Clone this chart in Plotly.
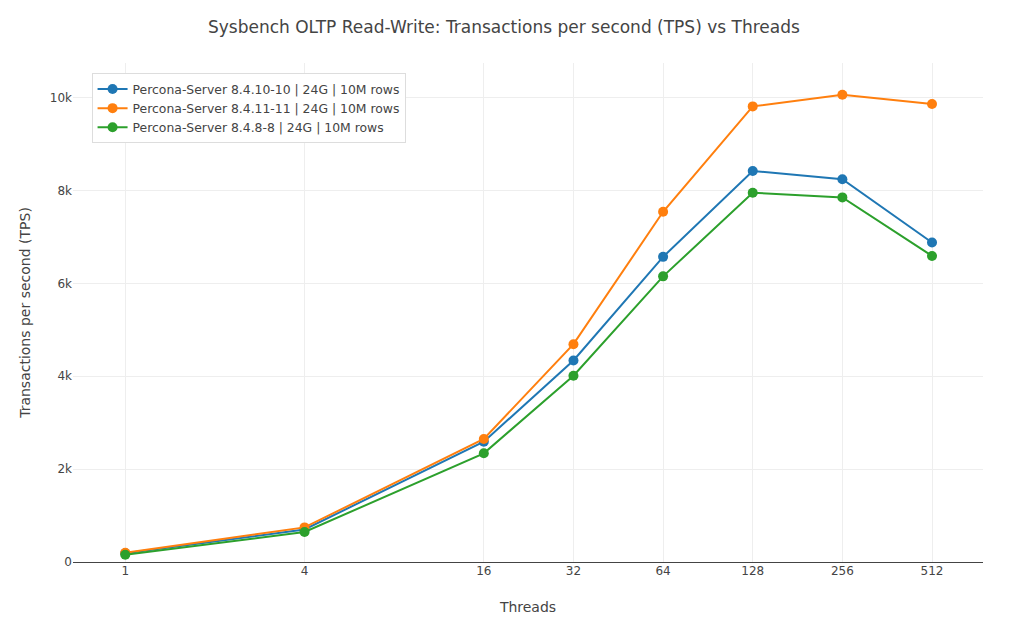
import plotly.graph_objects as go

threads = [1, 4, 16, 32, 64, 128, 256, 512]

tps_8410 = [190, 700, 2590, 4340, 6570, 8420, 8240, 6880]
tps_8411 = [200, 745, 2650, 4690, 7540, 9810, 10060, 9860]
tps_848 = [157, 645, 2340, 4010, 6150, 7950, 7850, 6590]

series = [
    ("Percona-Server 8.4.10-10 | 24G | 10M rows", tps_8410, "#1f77b4"),
    ("Percona-Server 8.4.11-11 | 24G | 10M rows", tps_8411, "#ff7f0e"),
    ("Percona-Server 8.4.8-8 | 24G | 10M rows", tps_848, "#2ca02c"),
]

fig = go.Figure()
for name, vals, color in series:
    fig.add_trace(go.Scatter(
        x=threads, y=vals, name=name, mode="lines+markers",
        line=dict(color=color, width=2),
        marker=dict(color=color, size=10),
    ))

grid = "#eeeeee"
fig.update_layout(
    width=1012, height=622,
    paper_bgcolor="white", plot_bgcolor="white",
    font=dict(family="DejaVu Sans, Verdana, sans-serif", color="#444", size=12),
    margin=dict(l=65, r=37, t=55, b=68, autoexpand=False),
    title=dict(text="Sysbench OLTP Read-Write: Transactions per second (TPS) vs Threads",
               x=0.49, xanchor="center", y=1 - 19 / 622, yanchor="middle",
               font=dict(size=17, color="#444")),
    legend=dict(x=0.0204, y=0.979, xanchor="left", yanchor="top",
                bgcolor="white", bordercolor="#dddddd", borderwidth=1,
                font=dict(size=12.4, color="#444")),
    xaxis=dict(type="log", tickvals=threads, ticktext=[str(t) for t in threads],
               range=[-0.1755, 2.8805], title=dict(text="Threads", standoff=25),
               showgrid=True, gridcolor=grid, showline=False, zeroline=False,
               automargin=False),
    yaxis=dict(range=[0, 10744], dtick=2000, title=dict(text="Transactions per second (TPS)"),
               showgrid=True, gridcolor=grid,
               zeroline=True, zerolinecolor="#444", zerolinewidth=1,
               automargin=False),
)

fig.write_html("out.html")
